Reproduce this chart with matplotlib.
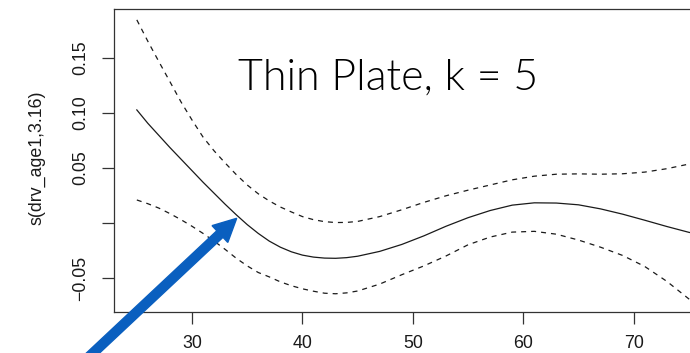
import numpy as np
import matplotlib.pyplot as plt
from matplotlib.patches import FancyArrow
from matplotlib.transforms import IdentityTransform

# smooth term s(drv_age1), with +-2 se bands
age = [25, 26, 27, 28, 29, 30, 31, 32, 33, 34, 35, 36, 37, 38, 39, 40,
       41, 42, 43, 44, 45, 47, 49, 51, 53, 55, 57, 59, 61, 63, 65, 67,
       69, 71, 73, 75, 76]
fit = [0.1027, 0.0905, 0.0795, 0.0685, 0.0580, 0.0475, 0.0370, 0.0270,
       0.0170, 0.0075, -0.0015, -0.0095, -0.0165, -0.0220, -0.0262,
       -0.0292, -0.0310, -0.0319, -0.0321, -0.0315, -0.0302, -0.0258,
       -0.0195, -0.0117, -0.0030, 0.0048, 0.0113, 0.0162, 0.0183, 0.0181,
       0.0165, 0.0128, 0.0080, 0.0025, -0.0032, -0.0085, -0.0105]
upper = [0.1845, 0.1650, 0.1465, 0.1283, 0.1100, 0.0935, 0.0780, 0.0655,
         0.0545, 0.0440, 0.0345, 0.0265, 0.0200, 0.0145, 0.0100, 0.0058,
         0.0030, 0.0012, 0.0004, 0.0005, 0.0014, 0.0058, 0.0120, 0.0187,
         0.0247, 0.0298, 0.0345, 0.0392, 0.0425, 0.0443, 0.0446, 0.0443,
         0.0447, 0.0462, 0.0493, 0.0535, 0.0557]
lower = [0.0209, 0.0175, 0.0135, 0.0085, 0.0030, -0.0030, -0.0095, -0.0165,
         -0.0240, -0.0320, -0.0390, -0.0450, -0.0490, -0.0535, -0.0570,
         -0.0598, -0.0620, -0.0638, -0.0643, -0.0635, -0.0618, -0.0555,
         -0.0470, -0.0390, -0.0300, -0.0198, -0.0128, -0.0083, -0.0076,
         -0.0102, -0.0155, -0.0220, -0.0295, -0.0395, -0.0530, -0.0690,
         -0.0760]

xticks = [30, 40, 50, 60, 70]
yticks = [-0.05, 0.0, 0.05, 0.10, 0.15]
ytick_labels = ['\u22120.05', '', '0.05', '0.10', '0.15']

W, H = 690, 353
fig = plt.figure(figsize=(W / 100, H / 100), dpi=100)

# plot region in pixels (right edge lies outside the cropped picture)
left, right, top, bottom = 114.3, 722.0, 9.3, 311.7
ax = fig.add_axes([left / W, (H - bottom) / H, (right - left) / W, (bottom - top) / H])

ax.plot(age, fit, color='#1a1a1a', lw=0.9)
ax.plot(age, upper, color='#1a1a1a', lw=0.9, dashes=(4, 4))
ax.plot(age, lower, color='#1a1a1a', lw=0.9, dashes=(4, 4))

ax.set_xlim(22.96, 78.0)
ax.set_ylim(-0.0806, 0.1941)

tick_font = dict(family='Liberation Sans', size=12.8)
ax.set_xticks(xticks)
ax.set_xticklabels([str(t) for t in xticks], fontdict=tick_font, color='#1a1a1a')
ax.set_yticks(yticks)
ax.set_yticklabels(ytick_labels, fontdict=tick_font, rotation=90, va='center',
                   color='#1a1a1a')
ax.tick_params(direction='out', length=8.3, width=0.9, color='#333333')
ax.tick_params(axis='x', pad=8.5)
ax.tick_params(axis='y', pad=10)
for s in ax.spines.values():
    s.set_linewidth(0.9)
    s.set_color('#333333')

fig.text(36.7 / W, (H - 158) / H, 's(drv_age1,3.16)', rotation=90,
         ha='center', va='center', color='#1a1a1a', **tick_font)

fig.text(388 / W, (H - 90) / H, 'Thin Plate, k = 5', family='Lato',
         weight=300, size=31, ha='center', va='baseline', color='black')

# blue arrow pointing at the curve
tip = np.array([236.7, H - 218.3])
d = np.array([143.7, 134.7])
d = d / np.hypot(*d)
start = tip - 260 * d
arrow = FancyArrow(start[0], start[1], *(tip - start), width=9, head_width=23,
                   head_length=23, length_includes_head=True,
                   color='#0A5FBF', transform=IdentityTransform())
fig.add_artist(arrow)

fig.savefig('out.png', dpi=100)
